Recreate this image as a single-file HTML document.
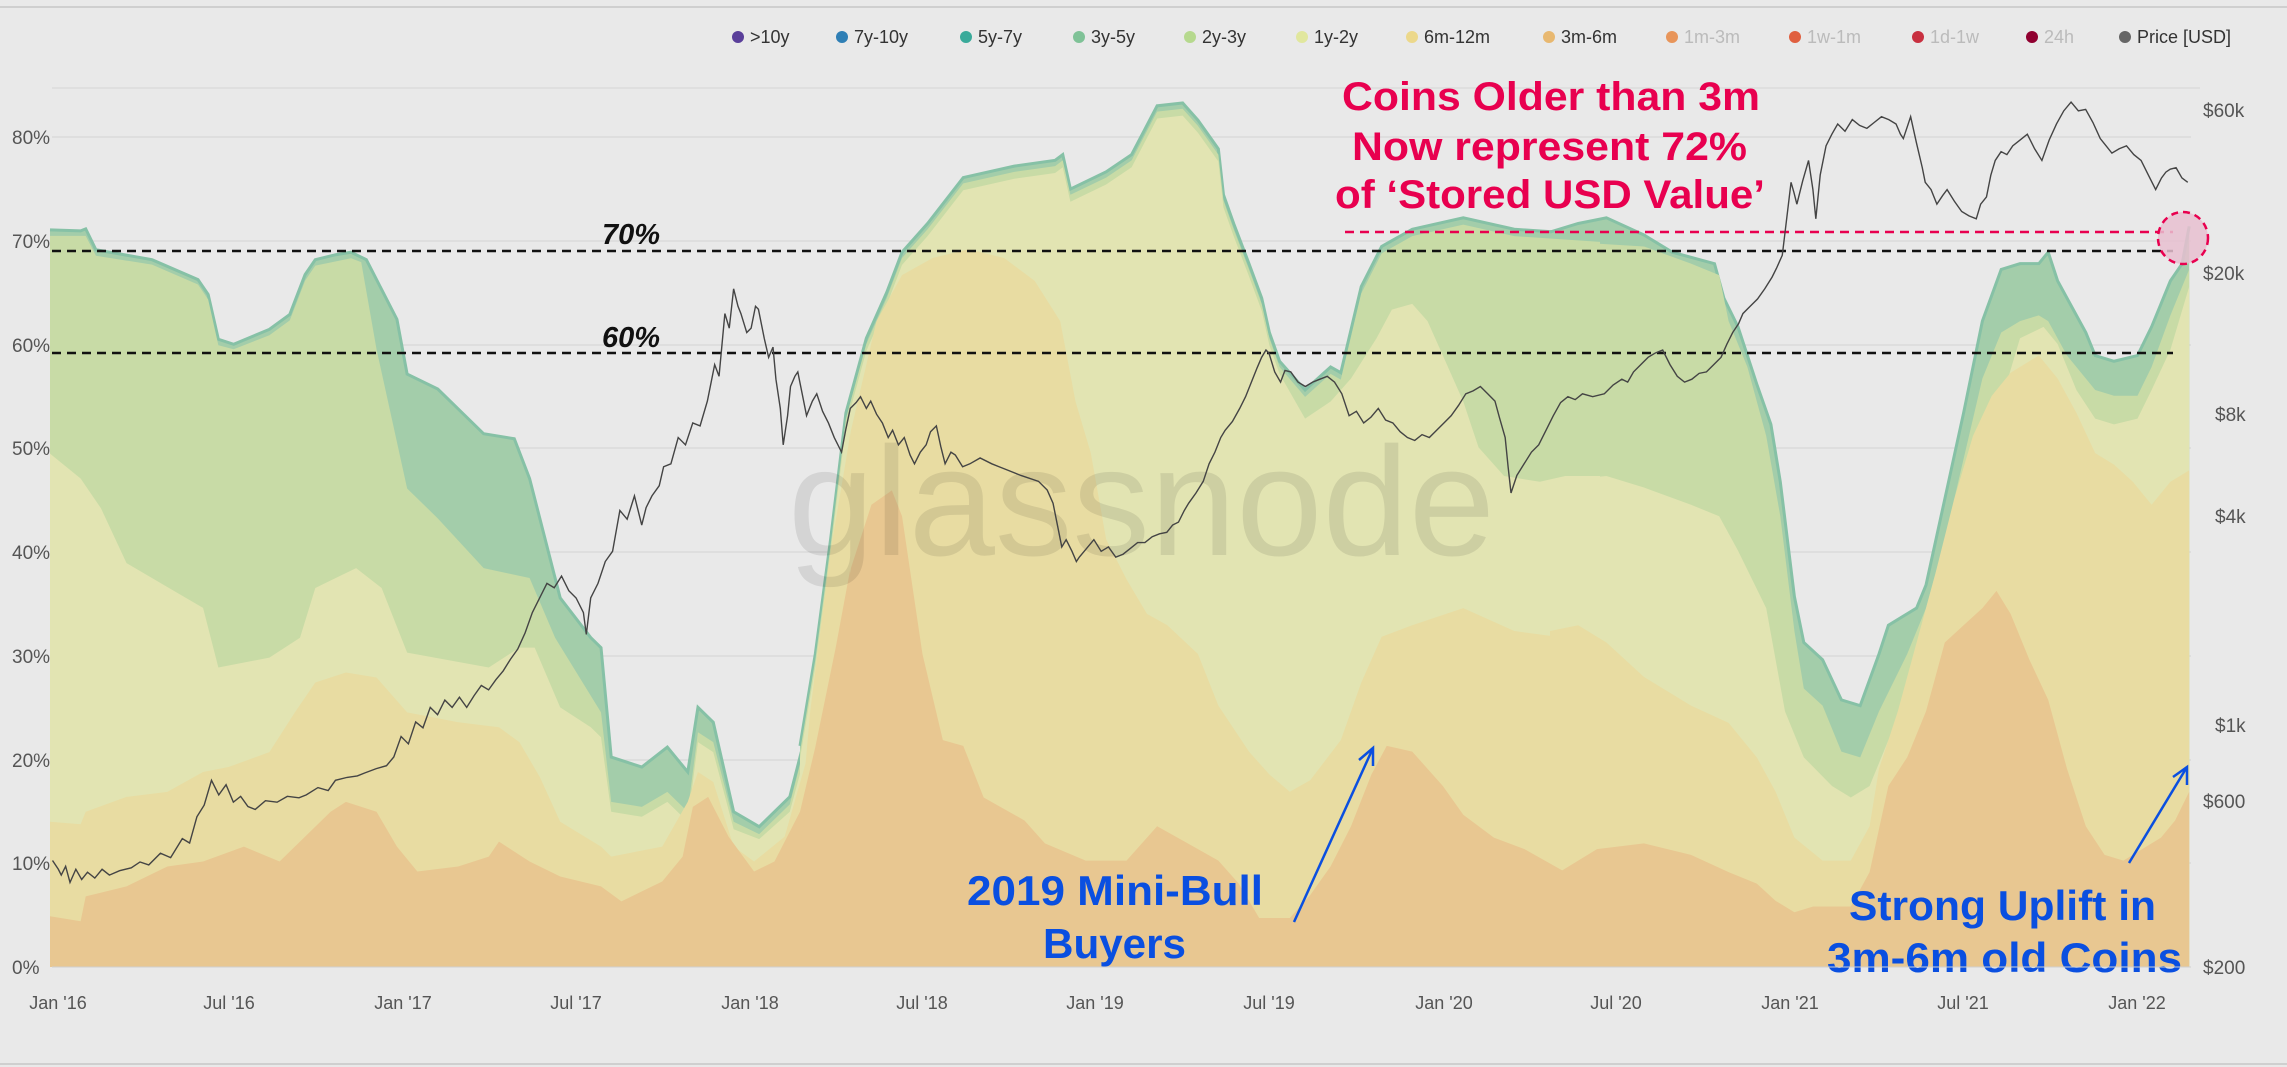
<!DOCTYPE html>
<html><head><meta charset="utf-8"><style>
html,body{margin:0;padding:0;background:#e9e9e9;}
svg{display:block;font-family:"Liberation Sans",sans-serif;}
</style></head><body>
<svg width="2287" height="1067" viewBox="0 0 2287 1067" xmlns="http://www.w3.org/2000/svg">
<rect width="2287" height="1067" fill="#e9e9e9"/>
<line x1="0" y1="7" x2="2287" y2="7" stroke="#cfcfcf" stroke-width="2"/>
<line x1="0" y1="1064" x2="2287" y2="1064" stroke="#cfcfcf" stroke-width="2"/>
<line x1="52" y1="88" x2="2200" y2="88" stroke="#dcdcdc" stroke-width="1.5"/>
<g stroke="#dadada" stroke-width="1.5">
<line x1="52" y1="137" x2="2191" y2="137"/><line x1="52" y1="241" x2="2191" y2="241"/>
<line x1="52" y1="345" x2="2191" y2="345"/><line x1="52" y1="448" x2="2191" y2="448"/>
<line x1="52" y1="552" x2="2191" y2="552"/><line x1="52" y1="656" x2="2191" y2="656"/>
<line x1="52" y1="760" x2="2191" y2="760"/><line x1="52" y1="863" x2="2191" y2="863"/>
</g>

<g transform="translate(50,200) scale(0.5102,0.4974)">
<polygon fill="#a3cdaa" points="0,60 60,62 70,58 90,100 200,120 290,160 310,190 330,280 360,290 430,260 470,230 500,150 520,120 560,110 590,105 620,120 640,160 680,240 700,350 760,380 850,470 910,480 940,560 1000,800 1060,880 1080,900 1100,1120 1160,1140 1210,1100 1250,1150 1270,1020 1300,1050 1340,1230 1390,1260 1450,1200 1500,1000 1530,720 1550,540 1568,440 1568,1542 0,1542"/>
<polyline fill="none" stroke="#86c1a6" stroke-width="3" vector-effect="non-scaling-stroke" points="0,60 60,62 70,58 90,100 200,120 290,160 310,190 330,280 360,290 430,260 470,230 500,150 520,120 560,110 590,105 620,120 640,160 680,240 700,350 760,380 850,470 910,480 940,560 1000,800 1060,880 1080,900 1100,1120 1160,1140 1210,1100 1250,1150 1270,1020 1300,1050 1340,1230 1390,1260 1450,1200 1500,1000 1530,720 1550,540 1568,440"/>
</g>
<g transform="translate(800,80) scale(0.5102,0.574)">
<polygon fill="#a3cdaa" points="0,1160 30,1000 60,800 90,580 130,450 170,370 200,300 250,250 320,170 420,150 500,140 515,130 530,190 600,160 650,130 700,45 750,40 780,70 820,120 830,200 850,250 880,320 905,380 920,440 940,490 990,540 1040,500 1060,510 1100,360 1140,290 1200,260 1300,240 1400,260 1568,270 1568,1545 0,1545"/>
<polyline fill="none" stroke="#86c1a6" stroke-width="3" vector-effect="non-scaling-stroke" points="0,1160 30,1000 60,800 90,580 130,450 170,370 200,300 250,250 320,170 420,150 500,140 515,130 530,190 600,160 650,130 700,45 750,40 780,70 820,120 830,200 850,250 880,320 905,380 920,440 940,490 990,540 1040,500 1060,510 1100,360 1140,290 1200,260 1300,240 1400,260 1568,270"/>
</g>
<g transform="translate(1550,80) scale(0.47,0.574)">
<polygon fill="#a3cdaa" points="0,265 60,250 120,240 200,270 260,300 350,320 370,380 400,430 440,530 470,600 490,700 520,900 540,980 580,1010 620,1080 660,1090 700,1000 720,950 780,920 800,880 840,730 880,580 920,420 960,330 1000,320 1040,320 1060,300 1080,350 1100,380 1140,440 1160,480 1200,490 1250,480 1280,430 1320,350 1345,320 1360,255 1360,1545 0,1545"/>
<polyline fill="none" stroke="#86c1a6" stroke-width="3" vector-effect="non-scaling-stroke" points="0,265 60,250 120,240 200,270 260,300 350,320 370,380 400,430 440,530 470,600 490,700 520,900 540,980 580,1010 620,1080 660,1090 700,1000 720,950 780,920 800,880 840,730 880,580 920,420 960,330 1000,320 1040,320 1060,300 1080,350 1100,380 1140,440 1160,480 1200,490 1250,480 1280,430 1320,350 1345,320 1360,255"/>
</g>

<g transform="translate(50,200) scale(0.5102,0.4974)"><polygon fill="#c8dba6" points="0,72 70,72 90,112 200,130 290,170 310,200 330,292 360,300 430,272 470,242 500,162 520,132 590,117 610,125 640,300 700,580 760,640 850,740 940,760 990,880 1080,1030 1100,1210 1160,1220 1210,1190 1250,1230 1270,1070 1300,1090 1340,1250 1390,1275 1450,1215 1500,1015 1530,735 1550,550 1568,448 1568,1542 0,1542"/></g>
<g transform="translate(800,80) scale(0.5102,0.574)"><polygon fill="#c8dba6" points="0,1170 30,1010 60,810 90,590 130,460 170,380 200,310 250,260 320,180 420,160 500,150 515,140 530,200 600,170 650,140 700,55 750,50 780,80 820,130 830,210 850,260 880,330 905,390 920,450 940,500 990,552 1040,512 1060,522 1100,372 1140,302 1200,272 1300,252 1400,272 1568,282 1568,1545 0,1545"/></g>
<g transform="translate(1550,80) scale(0.47,0.574)"><polygon fill="#c8dba6" points="0,280 200,290 300,320 360,340 380,420 420,500 460,620 490,760 520,960 540,1060 580,1090 620,1170 660,1180 700,1100 760,1000 800,920 840,800 880,660 920,520 960,440 1000,420 1040,410 1060,420 1100,480 1140,520 1160,540 1200,550 1250,550 1280,500 1320,410 1345,360 1360,330 1360,1545 0,1545"/></g>

<g transform="translate(50,200) scale(0.5102,0.4974)"><polygon fill="#e2e4b2" points="0,510 60,560 100,620 150,730 250,790 300,820 330,940 430,920 490,880 520,780 560,760 600,740 650,780 700,910 860,940 920,900 950,900 1000,1020 1060,1060 1080,1080 1100,1230 1160,1240 1210,1210 1250,1250 1270,1090 1300,1110 1340,1265 1390,1285 1450,1230 1500,1040 1530,760 1550,570 1568,458 1568,1542 0,1542"/></g>
<g transform="translate(800,80) scale(0.5102,0.574)"><polygon fill="#e2e4b2" points="0,1182 30,1022 60,822 90,602 130,472 170,392 200,322 250,272 320,192 420,172 500,162 515,152 530,212 600,182 650,152 700,67 750,62 780,92 820,142 830,222 850,272 880,342 905,402 920,462 940,512 990,590 1040,560 1080,520 1130,450 1160,400 1200,390 1230,420 1260,480 1300,560 1330,640 1380,690 1450,700 1500,690 1568,690 1568,1545 0,1545"/></g>
<g transform="translate(1550,80) scale(0.47,0.574)"><polygon fill="#e2e4b2" points="0,700 120,690 200,710 300,740 360,760 400,820 460,920 500,1100 540,1180 600,1230 640,1250 680,1230 720,1150 780,1060 830,920 870,780 920,640 960,560 1000,450 1050,430 1080,460 1120,540 1160,590 1200,600 1250,590 1280,540 1320,470 1360,360 1360,1545 0,1545"/></g>

<g transform="translate(50,200) scale(0.5102,0.4974)"><polygon fill="#e8dca2" points="0,1250 60,1255 70,1230 150,1200 230,1190 300,1150 350,1140 430,1110 480,1030 520,970 580,950 640,960 700,1030 800,1050 880,1060 920,1090 960,1160 1000,1250 1080,1300 1100,1320 1200,1300 1250,1210 1270,1150 1300,1170 1340,1300 1380,1330 1440,1280 1490,1100 1530,780 1568,470 1568,1542 0,1542"/></g>
<g transform="translate(800,80) scale(0.5102,0.574)"><polygon fill="#e8dca2" points="0,1300 20,1100 60,820 100,610 150,420 200,340 260,310 330,295 400,310 460,350 510,420 540,560 570,650 600,800 640,870 680,930 720,950 780,1000 820,1090 880,1170 920,1210 960,1240 1000,1220 1060,1150 1100,1050 1140,970 1200,950 1300,920 1400,960 1568,980 1568,1545 0,1545"/></g>
<g transform="translate(1550,80) scale(0.47,0.574)"><polygon fill="#e8dca2" points="0,960 60,950 120,980 200,1040 300,1090 380,1120 440,1180 480,1240 520,1320 580,1360 640,1360 680,1300 700,1200 740,1100 780,980 820,860 860,730 900,620 940,550 980,510 1040,480 1080,520 1120,580 1160,650 1200,670 1240,700 1280,740 1320,700 1360,680 1360,1545 0,1545"/></g>

<g transform="translate(50,200) scale(0.5102,0.4974)"><polygon fill="#e8c791" points="0,1440 60,1450 70,1400 150,1380 230,1340 300,1330 380,1300 450,1330 500,1280 550,1230 580,1210 640,1230 680,1300 720,1350 800,1340 860,1320 880,1290 940,1330 1000,1360 1080,1380 1120,1410 1200,1370 1240,1320 1260,1220 1290,1200 1330,1280 1380,1350 1420,1330 1470,1230 1500,1100 1540,900 1568,745 1568,1542 0,1542"/></g>
<g transform="translate(800,80) scale(0.5102,0.574)"><polygon fill="#e8c791" points="0,1330 30,1200 60,1050 100,850 140,740 180,715 200,760 240,1000 280,1150 320,1160 360,1250 400,1270 440,1290 480,1330 560,1360 640,1360 700,1300 760,1330 820,1360 860,1400 900,1460 960,1460 1000,1420 1040,1370 1080,1300 1120,1210 1150,1160 1200,1170 1260,1230 1300,1280 1360,1320 1420,1340 1500,1380 1568,1370 1568,1545 0,1545"/></g>
<g transform="translate(1550,80) scale(0.47,0.574)"><polygon fill="#e8c791" points="0,1390 100,1340 200,1330 300,1350 380,1380 440,1400 480,1430 520,1450 560,1440 640,1440 680,1380 720,1230 760,1180 800,1100 840,980 880,950 920,920 950,890 980,930 1020,1010 1060,1080 1100,1200 1140,1300 1180,1350 1220,1360 1260,1340 1300,1320 1330,1290 1360,1240 1360,1545 0,1545"/></g>

<text x="788" y="555" font-size="155" fill="#000" fill-opacity="0.09" textLength="707" lengthAdjust="spacingAndGlyphs">glassnode</text>

<line x1="52" y1="251" x2="2173" y2="251" stroke="#111" stroke-width="2.5" stroke-dasharray="9,6"/>
<line x1="52" y1="353" x2="2173" y2="353" stroke="#111" stroke-width="2.5" stroke-dasharray="9,6"/>
<line x1="1345" y1="232" x2="2173" y2="232" stroke="#e8004f" stroke-width="2.5" stroke-dasharray="9,6"/>
<text x="602" y="244" font-size="29" font-weight="bold" font-style="italic" fill="#111">70%</text>
<text x="602" y="347" font-size="29" font-weight="bold" font-style="italic" fill="#111">60%</text>

<g transform="scale(1.4585)">
<polyline fill="none" stroke="#444" stroke-width="1.4" vector-effect="non-scaling-stroke" points="36,590 40,596 42,600 45,594 48,605 52,596 56,603 60,598 65,602 70,596 75,600 82,597 90,595 96,591 102,593 110,585 117,588 125,575 130,578 135,560 140,552 145,535 148,541 150,545 155,538 160,550 165,546 170,553 175,555 182,549 190,550 197,546 205,547 210,545 218,540 225,542 230,535 238,533 245,532 250,530 258,527 265,525 270,519 275,505 280,510 285,495 290,499 295,485 300,490 305,480 310,485 315,478 320,485 325,477 330,470 335,473 340,466 345,460 350,452 355,445 360,434 365,420 370,410 375,400 380,403 385,395 390,405 395,410 400,420 402,435 405,410 410,400 415,385 420,378 425,350 430,356 435,340 440,360 443,348 447,340 452,333 455,320 460,318 465,300 470,305 475,290 480,292 485,275 490,250 493,258 497,215 500,225 503,198 506,210 508,215 512,228 515,225 518,210 520,212 524,232 527,245 530,238 532,260 535,280 537,305 540,285 542,265 545,258 547,255 550,270 553,285 557,275 560,270 564,282 568,290 572,300 577,310 580,294 583,280 587,276 590,272 594,280 597,275 601,284 605,290 609,300 612,295 616,305 620,300 624,312 627,318 631,310 635,305 638,296 642,292 645,306 648,318 652,310 655,312 660,320 665,318 672,314 680,318 685,320 690,322 700,326 712,330 718,336 722,345 725,360 728,375 731,370 735,378 738,385 740,382 745,376 750,370 755,378 760,375 765,382 770,380 775,376 780,372 785,372 790,368 795,366 800,365 804,360 808,358 812,350 815,345 820,338 825,330 829,318 833,310 837,300 840,295 845,289 850,280 854,272 858,262 862,252 865,245 868,240 870,242 874,255 878,262 881,254 885,255 890,262 895,265 900,262 905,260 910,258 915,262 920,270 925,285 930,282 935,290 940,286 945,280 950,288 955,290 960,296 965,300 970,302 975,298 980,300 985,295 990,290 995,285 1000,278 1005,270 1010,268 1015,265 1020,270 1025,275 1028,286 1032,300 1034,320 1036,338 1040,326 1045,318 1050,310 1055,305 1060,295 1065,285 1070,276 1075,272 1080,274 1085,270 1092,272 1100,270 1106,264 1112,260 1116,262 1120,255 1125,250 1130,245 1135,242 1140,240 1145,250 1150,258 1155,262 1160,260 1165,256 1170,255 1175,250 1180,245 1184,236 1188,228 1192,222 1195,215 1200,210 1205,205 1210,198 1215,190 1218,184 1222,175 1225,150 1228,125 1230,132 1232,140 1236,124 1240,110 1243,130 1245,150 1248,120 1252,100 1256,92 1260,85 1265,90 1270,82 1275,86 1280,88 1285,84 1290,80 1295,82 1300,85 1303,92 1305,95 1308,86 1310,80 1314,98 1318,115 1320,125 1324,130 1328,140 1332,134 1335,130 1340,138 1345,145 1350,148 1355,150 1358,140 1362,135 1365,120 1368,110 1372,104 1376,106 1380,100 1385,96 1390,92 1395,102 1400,110 1405,96 1410,85 1415,76 1420,70 1425,76 1430,75 1435,84 1440,95 1444,100 1448,105 1453,102 1458,100 1463,106 1468,110 1473,120 1478,130 1482,122 1485,118 1488,116 1492,115 1496,122 1500,125"/>
</g>

<ellipse cx="2183" cy="238" rx="25" ry="26" fill="#e7bfd0" fill-opacity="0.85" stroke="#e8004f" stroke-width="2.5" stroke-dasharray="7,5"/>

<g font-weight="bold" fill="#e8004f" font-size="40">
<text x="1342" y="110" textLength="418" lengthAdjust="spacingAndGlyphs">Coins Older than 3m</text>
<text x="1352" y="160" textLength="395" lengthAdjust="spacingAndGlyphs">Now represent 72%</text>
<text x="1335" y="208" textLength="430" lengthAdjust="spacingAndGlyphs">of ‘Stored USD Value’</text>
</g>
<g font-weight="bold" fill="#0a4fe0" font-size="42">
<text x="967" y="905" textLength="296" lengthAdjust="spacingAndGlyphs">2019 Mini-Bull</text>
<text x="1043" y="958" textLength="143" lengthAdjust="spacingAndGlyphs">Buyers</text>
<text x="1849" y="920" textLength="307" lengthAdjust="spacingAndGlyphs">Strong Uplift in</text>
<text x="1827" y="972" textLength="355" lengthAdjust="spacingAndGlyphs">3m-6m old Coins</text>
</g>
<g stroke="#0a4fe0" stroke-width="2.5" fill="none">
<line x1="1294" y1="922" x2="1373" y2="748"/>
<polyline points="1359,760 1373,748 1373,766"/>
<line x1="2129" y1="863" x2="2187" y2="767"/>
<polyline points="2173,777 2187,767 2187,785"/>
</g>

<g font-size="19" fill="#555">
<text x="12" y="144">80%</text><text x="12" y="248">70%</text><text x="12" y="352">60%</text>
<text x="12" y="455">50%</text><text x="12" y="559">40%</text><text x="12" y="663">30%</text>
<text x="12" y="767">20%</text><text x="12" y="870">10%</text><text x="12" y="974">0%</text>
</g>
<g font-size="19" fill="#555">
<text x="2203" y="117">$60k</text><text x="2203" y="280">$20k</text><text x="2215" y="421">$8k</text>
<text x="2215" y="523">$4k</text><text x="2215" y="732">$1k</text><text x="2203" y="808">$600</text>
<text x="2203" y="974">$200</text>
</g>
<g font-size="18" fill="#555" text-anchor="middle">
<text x="58" y="1009">Jan '16</text><text x="229" y="1009">Jul '16</text><text x="403" y="1009">Jan '17</text>
<text x="576" y="1009">Jul '17</text><text x="750" y="1009">Jan '18</text><text x="922" y="1009">Jul '18</text>
<text x="1095" y="1009">Jan '19</text><text x="1269" y="1009">Jul '19</text><text x="1444" y="1009">Jan '20</text>
<text x="1616" y="1009">Jul '20</text><text x="1790" y="1009">Jan '21</text><text x="1963" y="1009">Jul '21</text>
<text x="2137" y="1009">Jan '22</text>
</g>
<line x1="52" y1="967" x2="2191" y2="967" stroke="#cfcfcf" stroke-width="1"/>

<g font-size="18" fill="#333">
<circle cx="738" cy="37" r="6" fill="#5a3f9a"/><text x="750" y="43">&gt;10y</text>
<circle cx="842" cy="37" r="6" fill="#2f7fb5"/><text x="854" y="43">7y-10y</text>
<circle cx="966" cy="37" r="6" fill="#3aaa9a"/><text x="978" y="43">5y-7y</text>
<circle cx="1079" cy="37" r="6" fill="#7fc297"/><text x="1091" y="43">3y-5y</text>
<circle cx="1190" cy="37" r="6" fill="#b6d98e"/><text x="1202" y="43">2y-3y</text>
<circle cx="1302" cy="37" r="6" fill="#e1e79e"/><text x="1314" y="43">1y-2y</text>
<circle cx="1412" cy="37" r="6" fill="#ecd88b"/><text x="1424" y="43">6m-12m</text>
<circle cx="1549" cy="37" r="6" fill="#e8b870"/><text x="1561" y="43">3m-6m</text>
<circle cx="1672" cy="37" r="6" fill="#e8955a"/><text x="1684" y="43" fill="#bbb">1m-3m</text>
<circle cx="1795" cy="37" r="6" fill="#e06040"/><text x="1807" y="43" fill="#bbb">1w-1m</text>
<circle cx="1918" cy="37" r="6" fill="#c83040"/><text x="1930" y="43" fill="#bbb">1d-1w</text>
<circle cx="2032" cy="37" r="6" fill="#900030"/><text x="2044" y="43" fill="#bbb">24h</text>
<circle cx="2125" cy="37" r="6" fill="#666"/><text x="2137" y="43">Price [USD]</text>
</g>
</svg>
</body></html>
